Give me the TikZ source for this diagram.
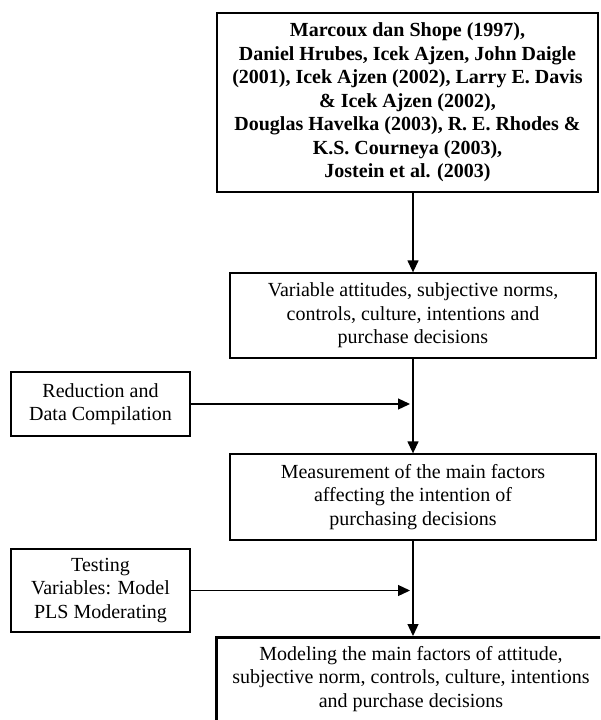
\documentclass[tikz,border=0pt]{standalone}
\usepackage{fontspec}
\setmainfont{Liberation Serif}
\usetikzlibrary{arrows.meta}
\begin{document}
\begin{tikzpicture}[x=1pt,y=-1pt,
  box/.style={draw, line width=1.3pt, rectangle, inner sep=0pt, align=center,
    font=\fontsize{20}{23.5}\selectfont},
  arr/.style={line width=1.3pt, -{Triangle[length=12pt,width=11pt]}}]
\useasboundingbox (0,0) rectangle (600,720);
\clip (0,0) rectangle (600,720);
\fill[white] (0,0) rectangle (600,720);
\node[box, minimum width=381pt, minimum height=179pt, font=\bfseries\fontsize{20}{23.5}\selectfont] (top) at (407.5,102.5)
  {Marcoux dan Shope (1997),\\Daniel Hrubes, Icek Ajzen, John Daigle\\(2001), Icek Ajzen (2002), Larry E. Davis\\\& Icek Ajzen (2002),\\Douglas Havelka (2003), R. E. Rhodes \&\\K.S. Courneya (2003),\\Jostein et al. (2003)};
\node[box, minimum width=366pt, minimum height=85pt] (b2) at (413,315.5)
  {Variable attitudes, subjective norms,\\controls, culture, intentions and\\purchase decisions};
\node[box, minimum width=179pt, minimum height=64pt] (red) at (100.5,404)
  {Reduction and\\Data Compilation};
\node[box, minimum width=366pt, minimum height=86pt] (b3) at (413,497)
  {Measurement of the main factors\\affecting the intention of\\purchasing decisions};
\node[box, minimum width=179pt, minimum height=83pt] (test) at (100.5,590.5)
  {Testing\\Variables: Model\\PLS Moderating};
\node[box, line width=2.5pt, minimum width=388pt, minimum height=104pt, anchor=north west] (b5) at (215,636) {};
\node[align=center, inner sep=0pt, font=\fontsize{20}{23.5}\selectfont, anchor=north] (b5t) at (411,646)
  {Modeling the main factors of attitude,\\subjective norm, controls, culture, intentions\\and purchase decisions};
\draw[arr] (top.south -| b2.north) -- (b2.north);
\draw[arr] (b2.south) -- (b3.north);
\draw[arr] (b3.south) -- (b3.south |- b5.north);
\draw[arr, shorten >=3pt] (red.east) -- (red.east -| b2.south);
\draw[arr, shorten >=3pt] (test.east) -- (test.east -| b3.south);
\end{tikzpicture}
\end{document}
